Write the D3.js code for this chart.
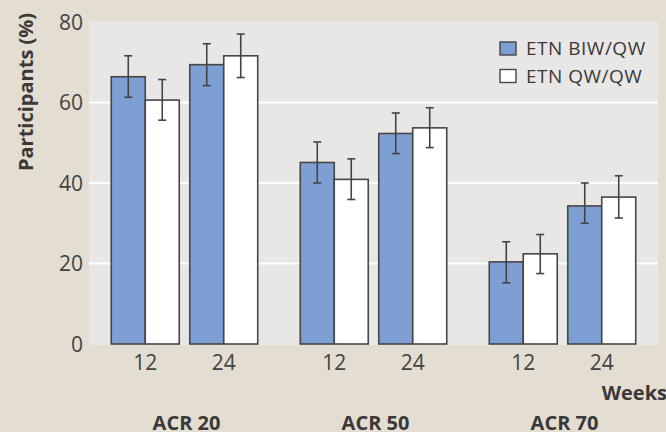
<!DOCTYPE html>
<html>
<head>
<meta charset="utf-8">
<script src="https://cdn.jsdelivr.net/npm/d3@7"></script>
<style>
  html, body { margin: 0; padding: 0; background: #e3ddd2; }
  svg { display: block; }
  text { font-family: "Open Sans", "Noto Sans", sans-serif; fill: #3b3838; }
</style>
</head>
<body>
<svg id="chart" width="666" height="432"></svg>
<script>
// ACR response rates by visit week for the two dosing regimens
const groups = ["ACR 20", "ACR 50", "ACR 70"];
const weeks = ["12", "24"];
const series = ["ETN BIW/QW", "ETN QW/QW"];
const seriesColors = ["#7d9fd4", "#ffffff"];

// values listed group by group, week 12 then week 24
const biwValues = [66.4, 69.4, 45.1, 52.3, 20.4, 34.3];
const biwLower  = [61.3, 64.2, 40.0, 47.3, 15.2, 30.0];
const biwUpper  = [71.6, 74.6, 50.2, 57.4, 25.4, 40.0];
const qwValues  = [60.6, 71.6, 40.9, 53.7, 22.4, 36.5];
const qwLower   = [55.6, 66.2, 35.9, 48.8, 17.5, 31.3];
const qwUpper   = [65.7, 77.0, 46.0, 58.7, 27.2, 41.8];

const yTicks = [0, 20, 40, 60, 80];
const gridTicks = [20, 40, 60];

const rows = [];
groups.forEach((g, gi) => {
  weeks.forEach((w, wi) => {
    const i = gi * weeks.length + wi;
    rows.push({ group: g, week: w, series: series[0], value: biwValues[i], lo: biwLower[i], hi: biwUpper[i] });
    rows.push({ group: g, week: w, series: series[1], value: qwValues[i], lo: qwLower[i], hi: qwUpper[i] });
  });
});

const svg = d3.select("#chart");
const panel = { left: 89, right: 658, top: 21, bottom: 345 };

const y = d3.scaleLinear().domain([0, 80]).range([344, 22]);
const xGroup = d3.scaleBand().domain(groups).range([90, 657]).padding(0);
const xWeek = d3.scaleBand().domain(weeks).range([0, xGroup.bandwidth()])
  .paddingInner(0.134).paddingOuter(0.271);
const xSeries = d3.scaleBand().domain(series).range([0, xWeek.bandwidth()]).padding(0);
const color = d3.scaleOrdinal().domain(series).range(seriesColors);

// plot panel
svg.append("rect")
  .attr("x", panel.left).attr("y", panel.top)
  .attr("width", panel.right - panel.left).attr("height", panel.bottom - panel.top)
  .attr("fill", "#e8e7e5");

// gridlines
svg.append("g").selectAll("line").data(gridTicks).join("line")
  .attr("x1", panel.left).attr("x2", panel.right)
  .attr("y1", d => y(d)).attr("y2", d => y(d))
  .attr("stroke", "#ffffff").attr("stroke-width", 2);

// y axis labels
const yAxis = d3.axisLeft(y).tickValues(yTicks).tickSize(0).tickPadding(6);
const yg = svg.append("g").attr("transform", `translate(${panel.left},0)`).call(yAxis);
yg.select(".domain").remove();
yg.selectAll("text")
  .attr("font-size", 21).attr("font-weight", 400)
  .style("font-family", '"Open Sans", sans-serif').style("fill", "#454242")
  .attr("dy", "0.35em");

// bars
const barX = d => xGroup(d.group) + xWeek(d.week) + xSeries(d.series);
svg.append("g").selectAll("rect").data(rows).join("rect")
  .attr("x", barX)
  .attr("y", d => y(d.value))
  .attr("width", xSeries.bandwidth())
  .attr("height", d => y(0) - y(d.value))
  .attr("fill", d => color(d.series))
  .attr("stroke", "#474545").attr("stroke-width", 1.6);

// error bars
const cap = 4;
const eg = svg.append("g").attr("stroke", "#454343").attr("stroke-width", 1.6);
rows.forEach(d => {
  const cx = barX(d) + xSeries.bandwidth() / 2;
  eg.append("line").attr("x1", cx).attr("x2", cx).attr("y1", y(d.lo)).attr("y2", y(d.hi));
  eg.append("line").attr("x1", cx - cap).attr("x2", cx + cap).attr("y1", y(d.lo)).attr("y2", y(d.lo));
  eg.append("line").attr("x1", cx - cap).attr("x2", cx + cap).attr("y1", y(d.hi)).attr("y2", y(d.hi));
});

// week labels under each pair of bars
const weekLabels = [];
groups.forEach(g => weeks.forEach(w => weekLabels.push({ group: g, week: w })));
svg.append("g").selectAll("text").data(weekLabels).join("text")
  .attr("x", d => xGroup(d.group) + xWeek(d.week) + xWeek.bandwidth() / 2)
  .attr("y", 370)
  .attr("text-anchor", "middle")
  .attr("font-size", 21)
  .style("fill", "#454242")
  .text(d => d.week);

// group labels
svg.append("g").selectAll("text").data(groups).join("text")
  .attr("x", d => xGroup(d) + xGroup.bandwidth() / 2 + 2)
  .attr("y", 430)
  .attr("text-anchor", "middle")
  .attr("font-size", 20).attr("font-weight", 700)
  .text(d => d);

svg.append("text")
  .attr("x", 667).attr("y", 400)
  .attr("text-anchor", "end")
  .attr("font-size", 20).attr("font-weight", 700)
  .text("Weeks");

svg.append("text")
  .attr("transform", "translate(33,92) rotate(-90)")
  .attr("text-anchor", "middle")
  .attr("font-size", 20).attr("font-weight", 700)
  .text("Participants (%)");

// legend
const legend = svg.append("g").selectAll("g").data(series).join("g")
  .attr("transform", (d, i) => `translate(500,${42 + i * 27.5})`);
legend.append("rect")
  .attr("width", 16).attr("height", 13)
  .attr("fill", d => color(d))
  .attr("stroke", "#474545").attr("stroke-width", 1.4);
legend.append("text")
  .attr("x", 26).attr("y", 13)
  .attr("font-size", 19)
  .style("letter-spacing", "0.5px")
  .style("fill", "#3b3838")
  .text(d => d);
</script>
</body>
</html>
